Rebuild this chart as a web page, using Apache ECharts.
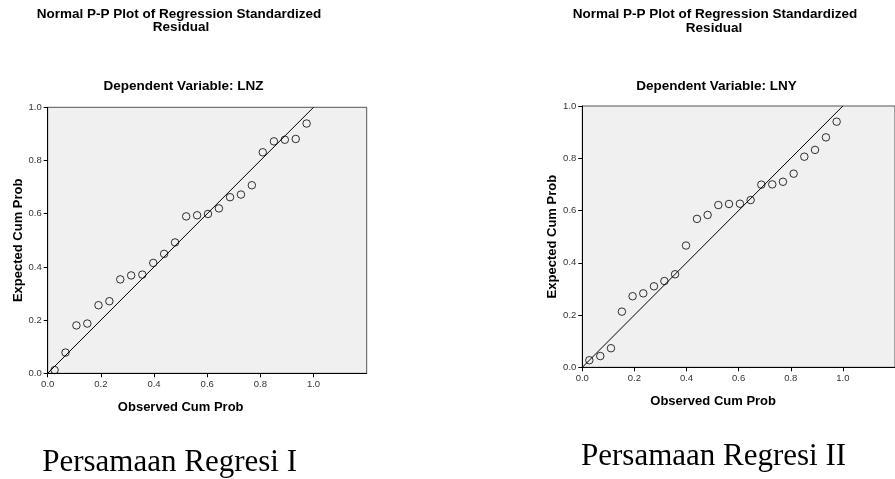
<!DOCTYPE html>
<html>
<head>
<meta charset="utf-8">
<script src="https://cdn.jsdelivr.net/npm/echarts@6/dist/echarts.min.js"></script>
<style>
html,body{margin:0;padding:0;background:#fff;}
#chart{width:895px;height:479px;}
</style>
</head>
<body>
<div id="chart"></div>
<script>
// Panel I (Dependent Variable: LNZ)
const observedI = [0.026,0.067,0.108,0.149,0.191,0.232,0.273,0.314,0.356,0.397,0.438,0.479,0.521,0.562,0.603,0.644,0.686,0.727,0.768,0.809,0.851,0.892,0.933,0.974];
const expectedI = [0.012,0.078,0.180,0.187,0.256,0.271,0.353,0.368,0.371,0.415,0.449,0.492,0.590,0.594,0.599,0.620,0.662,0.672,0.707,0.831,0.872,0.878,0.881,0.939];
// Panel II (Dependent Variable: LNY)
const observedII = [0.027,0.069,0.110,0.152,0.193,0.234,0.275,0.315,0.356,0.398,0.440,0.481,0.522,0.563,0.605,0.646,0.687,0.729,0.770,0.811,0.852,0.893,0.935,0.976];
const expectedII = [0.027,0.043,0.073,0.213,0.272,0.283,0.310,0.330,0.356,0.466,0.568,0.583,0.621,0.625,0.626,0.640,0.699,0.700,0.710,0.741,0.806,0.832,0.880,0.940];
const diagonal = [[0, 0], [1, 1]];
const tickValues = [0, 0.2, 0.4, 0.6, 0.8, 1.0];
const titleLine1 = 'Normal P-P Plot of Regression Standardized';
const titleLine2 = 'Residual';
const subtitles = ['Dependent Variable: LNZ', 'Dependent Variable: LNY'];
const captions = ['Persamaan Regresi I', 'Persamaan Regresi II'];
const xName = 'Observed Cum Prob';
const yName = 'Expected Cum Prob';

const chart = echarts.init(document.getElementById('chart'), null, {renderer: 'canvas'});
const sans = 'Liberation Sans, Arial, sans-serif';

function xAxis(gi, shift) {
  return {
    gridIndex: gi, type: 'value', min: 0, max: 1.2,
    name: xName, nameLocation: 'middle', nameGap: 28,
    nameTextStyle: {fontFamily: sans, fontWeight: 'bold', fontSize: 13, color: '#000', padding: [0, shift, 0, 0]},
    axisLine: {show: true, lineStyle: {color: '#000', width: 1}},
    axisTick: {show: true, length: 4, customValues: tickValues, lineStyle: {color: '#000'}},
    axisLabel: {customValues: tickValues, margin: 6, fontFamily: sans, fontSize: 9.5, color: '#333',
      formatter: v => v.toFixed(1)},
    splitLine: {show: false}
  };
}
function yAxis(gi) {
  return {
    gridIndex: gi, type: 'value', min: 0, max: 1.0,
    name: yName, nameLocation: 'middle', nameGap: 20,
    nameTextStyle: {fontFamily: sans, fontWeight: 'bold', fontSize: 13, color: '#000'},
    axisLine: {show: true, lineStyle: {color: '#000', width: 1}},
    axisTick: {show: true, length: 4, customValues: tickValues, lineStyle: {color: '#000'}},
    axisLabel: {customValues: tickValues, margin: 6, fontFamily: sans, fontSize: 9.5, color: '#333',
      formatter: v => v.toFixed(1)},
    splitLine: {show: false}
  };
}
function scatter(gi, xs, ys) {
  return {
    type: 'scatter', xAxisIndex: gi, yAxisIndex: gi,
    data: xs.map((x, i) => [x, ys[i]]),
    symbol: 'circle', symbolSize: 7.5,
    itemStyle: {color: 'rgba(0,0,0,0)', borderColor: '#000', borderWidth: 1},
    silent: true, z: 3
  };
}
function diag(gi) {
  return {
    type: 'line', xAxisIndex: gi, yAxisIndex: gi, data: diagonal,
    showSymbol: false, symbol: 'none', lineStyle: {color: '#000', width: 1},
    silent: true, z: 2
  };
}
function txt(text, x, y, font, align) {
  return {type: 'text', x: x, y: y, silent: true,
    style: {text: text, font: font, fill: '#000', textAlign: align || 'center', textVerticalAlign: 'middle'}};
}
const titleFont = 'bold 13.5px ' + sans;
const capFont = '31px Liberation Serif, Times New Roman, serif';

chart.setOption({
  animation: false,
  backgroundColor: '#fff',
  grid: [
    {left: 47.7, top: 107.3, width: 319, height: 266, show: true, backgroundColor: '#f0f0f0', borderColor: '#555', borderWidth: 1},
    {left: 582.3, top: 106, width: 313, height: 261.3, show: true, backgroundColor: '#f0f0f0', borderColor: '#555', borderWidth: 1}
  ],
  xAxis: [xAxis(0, 53), xAxis(1, 51)],
  yAxis: [yAxis(0), yAxis(1)],
  series: [diag(0), scatter(0, observedI, expectedI), diag(1), scatter(1, observedII, expectedII)],
  graphic: [
    txt(titleLine1, 179, 14, titleFont),
    txt(titleLine2, 181, 27.5, titleFont),
    txt(subtitles[0], 183.5, 86.3, titleFont),
    txt(titleLine1, 715, 14.2, titleFont),
    txt(titleLine2, 714, 27.8, titleFont),
    txt(subtitles[1], 716.5, 86.3, titleFont),
    txt(captions[0], 297, 462.8, capFont, 'right'),
    txt(captions[1], 581, 456.5, capFont, 'left')
  ]
});
</script>
</body>
</html>
